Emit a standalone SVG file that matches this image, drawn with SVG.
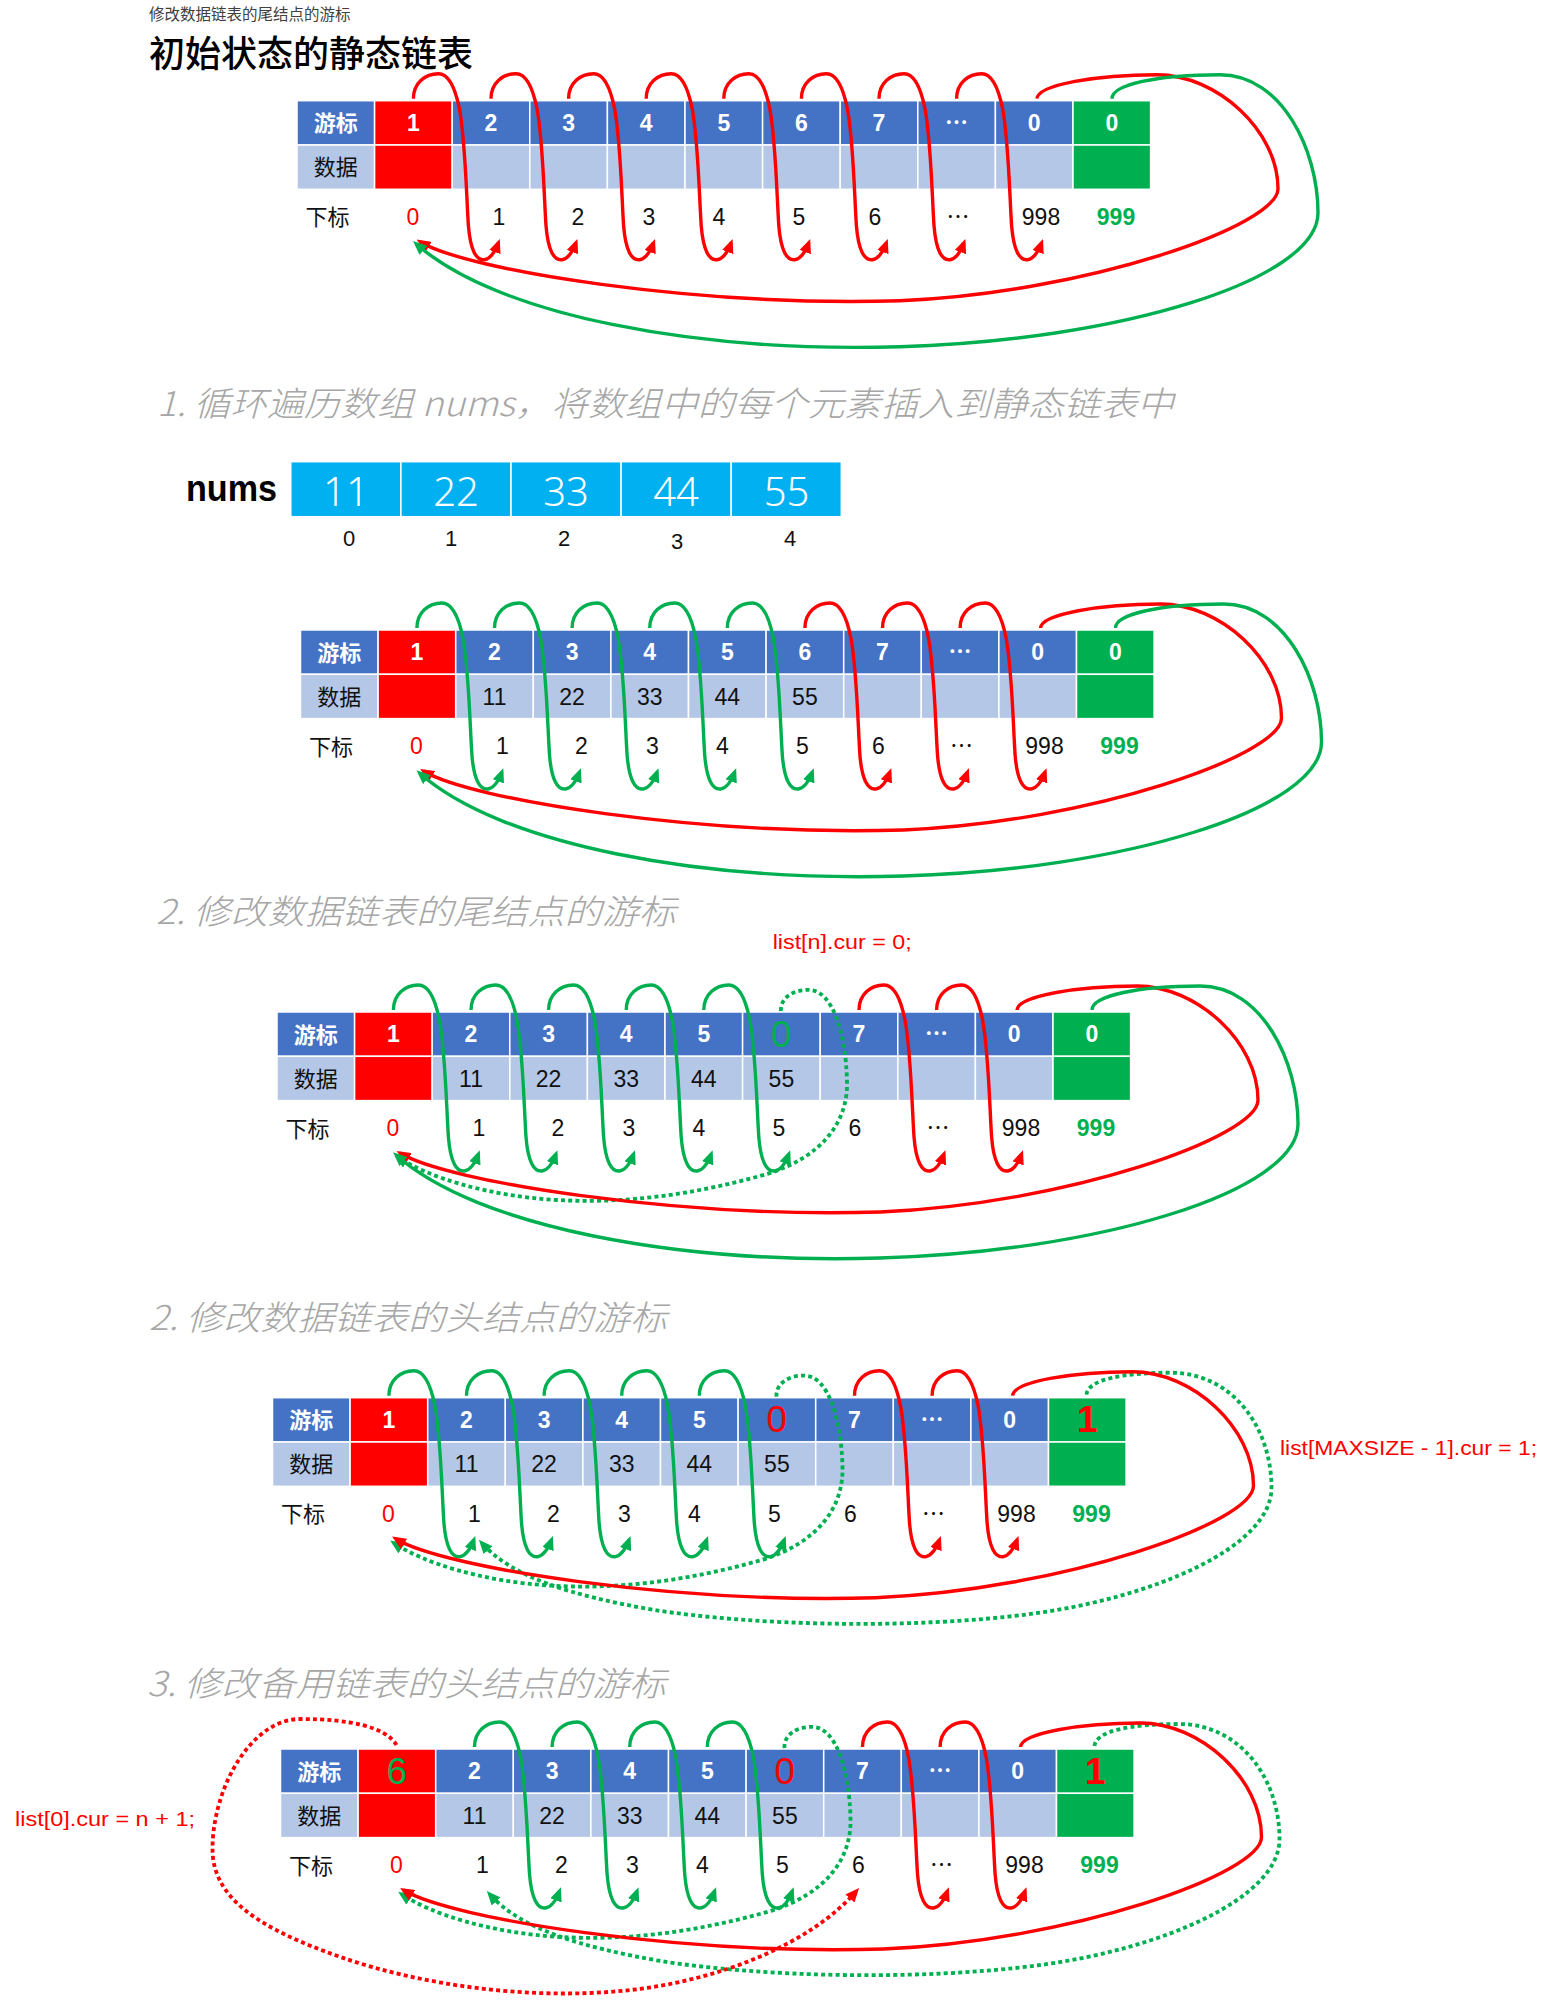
<svg xmlns="http://www.w3.org/2000/svg" xmlns:xlink="http://www.w3.org/1999/xlink" width="1568" height="2000" viewBox="0 0 1568 2000">
<style>
text{font-family:"Liberation Sans","Noto Sans CJK SC",sans-serif}
.h{fill:#4472c4;stroke:#fff;stroke-width:1.5}
.d{fill:#b4c7e7;stroke:#fff;stroke-width:1.5}
.rd{fill:#ff0000;stroke:#fff;stroke-width:1.5}
.gn{fill:#00b050;stroke:#fff;stroke-width:1.5}
.c{font-size:23px;font-weight:bold;fill:#fff;text-anchor:middle}
.v{font-size:23px;fill:#111;text-anchor:middle}
.i{font-size:23px;fill:#111;text-anchor:middle}
.ir{fill:#ff0000}
.ig{fill:#00b050;font-weight:bold}
.L{font-family:"Noto Sans CJK SC",sans-serif;font-size:22px;text-anchor:middle}
.Lw{fill:#fff;font-weight:bold}
.Lk{fill:#111}
.el{font-family:"Noto Sans CJK SC",sans-serif}
.big{font-size:37px;text-anchor:middle}
.bg{fill:#00b050}
.br{fill:#ff0000}
.sec{font-family:"Noto Sans CJK SC",sans-serif;font-style:italic;font-weight:300;font-size:34px;fill:#a6a6a6}
.code{font-family:"Liberation Sans",sans-serif;font-size:21px;fill:#ff0000}
.nc{fill:#00b0f0;stroke:#fff;stroke-width:1.5}
.nv{font-family:"Noto Sans","Liberation Sans",sans-serif;font-weight:300;font-size:40px;fill:#fff;text-anchor:middle}
.ni{font-size:22px;fill:#111;text-anchor:middle}
.sr{fill:none;stroke:#ff0000;stroke-width:3.4}
.sg{fill:none;stroke:#00b050;stroke-width:3.4}
.dg{fill:none;stroke:#00b050;stroke-width:3.8;stroke-dasharray:4 3.2}
.dr{fill:none;stroke:#ff0000;stroke-width:3.8;stroke-dasharray:4 3.2}
</style>
<defs>
<marker id="ahR" viewBox="0 0 14 12" refX="10" refY="6" markerWidth="14" markerHeight="12" markerUnits="userSpaceOnUse" orient="auto"><path d="M0,0 L14,6 L0,12 z" fill="#ff0000"/></marker>
<marker id="ahG" viewBox="0 0 14 12" refX="10" refY="6" markerWidth="14" markerHeight="12" markerUnits="userSpaceOnUse" orient="auto"><path d="M0,0 L14,6 L0,12 z" fill="#00b050"/></marker>
<path id="loopR" class="sr" marker-end="url(#ahR)" d="M0,-2 C0,-18 12,-27 25,-27 C36,-27 42,-12 46,8 C52,40 53,95 55,125 C57,150 63,160 71,159 C78,158 82,150 85,142"/>
<path id="loopG" class="sg" marker-end="url(#ahG)" d="M0,-2 C0,-18 12,-27 25,-27 C36,-27 42,-12 46,8 C52,40 53,95 55,125 C57,150 63,160 71,159 C78,158 82,150 85,142"/>
<path id="longR" class="sr" marker-end="url(#ahR)" d="M740,-2 C741,-16 800,-26 860,-26 C920,-26 981,30 981,88 C981,125 790,192 603,200 C400,206 170,170 123,141"/>
<path id="longG" class="sg" marker-end="url(#ahG)" d="M815,-2 C815,-16 860,-26 923,-26 C985,-26 1021,50 1021,112 C1021,180 820,240 603,246 C400,252 200,215 119,143"/>
<path id="dotTail" class="dg" marker-end="url(#ahG)" d="M504,-1 C503,-15 518,-23 533,-22 C555,-21 569,20 570,70 C571,110 545,145 490,162 C420,182 350,192 280,188 C210,184 150,165 121,145"/>
<path id="dotHead" class="dg" marker-end="url(#ahG)" d="M814,-3 C815,-18 850,-25 898,-25 C960,-25 999,30 999,90 C999,150 880,200 760,216 C640,232 480,228 380,212 C300,198 240,180 209,145"/>
</defs>

<rect width="1568" height="2000" fill="#fff"/>

<g id="titles">
<text x="149" y="20" font-family="Noto Sans CJK SC, sans-serif" font-size="15.5" fill="#404040">修改数据链表的尾结点的游标</text>
<text x="149" y="67" font-family="Noto Sans CJK SC, sans-serif" font-size="36" font-weight="500" fill="#000">初始状态的静态链表</text>
<text class="sec" x="157" y="416" textLength="1017" lengthAdjust="spacingAndGlyphs">1. 循环遍历数组 nums，将数组中的每个元素插入到静态链表中</text>
<text class="sec" x="156" y="924" textLength="520" lengthAdjust="spacingAndGlyphs">2. 修改数据链表的尾结点的游标</text>
<text class="sec" x="149" y="1330" textLength="518" lengthAdjust="spacingAndGlyphs">2. 修改数据链表的头结点的游标</text>
<text class="sec" x="147" y="1696" textLength="519" lengthAdjust="spacingAndGlyphs">3. 修改备用链表的头结点的游标</text>
<text class="code" x="772.7" y="949" textLength="139" lengthAdjust="spacingAndGlyphs">list[n].cur = 0;</text>
<text class="code" x="1280" y="1455" textLength="257" lengthAdjust="spacingAndGlyphs">list[MAXSIZE - 1].cur = 1;</text>
<text class="code" x="15" y="1826" textLength="180" lengthAdjust="spacingAndGlyphs">list[0].cur = n + 1;</text>
</g>

<g id="nums">
<text x="186" y="501" font-size="36" font-weight="bold" fill="#000" textLength="91" lengthAdjust="spacingAndGlyphs">nums</text>
<g id="nums-0"><rect class="nc" x="290.8" y="461.7" width="110.1" height="55"/><text class="nv" x="345.9" y="506">11</text><text class="ni" x="349" y="546">0</text></g>
<g id="nums-1"><rect class="nc" x="400.9" y="461.7" width="110.1" height="55"/><text class="nv" x="456" y="506">22</text><text class="ni" x="451" y="546">1</text></g>
<g id="nums-2"><rect class="nc" x="511" y="461.7" width="110.1" height="55"/><text class="nv" x="566" y="506">33</text><text class="ni" x="564" y="546">2</text></g>
<g id="nums-3"><rect class="nc" x="621.1" y="461.7" width="110.1" height="55"/><text class="nv" x="676" y="506">44</text><text class="ni" x="677" y="549">3</text></g>
<g id="nums-4"><rect class="nc" x="731.2" y="461.7" width="110.1" height="55"/><text class="nv" x="786.5" y="506">55</text><text class="ni" x="790" y="546">4</text></g>
</g>

<!-- TABLE 1 -->
<g id="table1" transform="translate(297,100.7)">
<g id="t1-c0"><rect class="h" x="0" y="0" width="77.6" height="44.3"/><rect class="d" x="0" y="44.3" width="77.6" height="44.3"/><text class="L Lw" x="38.8" y="30.5">游标</text><text class="L Lk" x="38.8" y="74.8">数据</text><text class="L Lk" x="30.5" y="124.5">下标</text></g>
<g id="t1-c1"><rect class="rd" x="77.6" y="0" width="77.6" height="44.3"/><rect class="rd" x="77.6" y="44.3" width="77.6" height="44.3"/><text class="c" x="116.4" y="30">1</text><text class="i ir" x="116" y="124">0</text></g>
<g id="t1-c2"><rect class="h" x="155.2" y="0" width="77.6" height="44.3"/><rect class="d" x="155.2" y="44.3" width="77.6" height="44.3"/><text class="c" x="194" y="30">2</text><text class="i" x="202" y="124">1</text></g>
<g id="t1-c3"><rect class="h" x="232.8" y="0" width="77.6" height="44.3"/><rect class="d" x="232.8" y="44.3" width="77.6" height="44.3"/><text class="c" x="271.6" y="30">3</text><text class="i" x="281" y="124">2</text></g>
<g id="t1-c4"><rect class="h" x="310.4" y="0" width="77.6" height="44.3"/><rect class="d" x="310.4" y="44.3" width="77.6" height="44.3"/><text class="c" x="349.2" y="30">4</text><text class="i" x="352" y="124">3</text></g>
<g id="t1-c5"><rect class="h" x="388" y="0" width="77.6" height="44.3"/><rect class="d" x="388" y="44.3" width="77.6" height="44.3"/><text class="c" x="426.8" y="30">5</text><text class="i" x="422" y="124">4</text></g>
<g id="t1-c6"><rect class="h" x="465.6" y="0" width="77.6" height="44.3"/><rect class="d" x="465.6" y="44.3" width="77.6" height="44.3"/><text class="c" x="504.4" y="30">6</text><text class="i" x="502" y="124">5</text></g>
<g id="t1-c7"><rect class="h" x="543.2" y="0" width="77.6" height="44.3"/><rect class="d" x="543.2" y="44.3" width="77.6" height="44.3"/><text class="c" x="582" y="30">7</text><text class="i" x="578" y="124">6</text></g>
<g id="t1-c8"><rect class="h" x="620.8" y="0" width="77.6" height="44.3"/><rect class="d" x="620.8" y="44.3" width="77.6" height="44.3"/><text class="c el" x="659.6" y="30">…</text><text class="i el" x="661" y="124">…</text></g>
<g id="t1-c9"><rect class="h" x="698.4" y="0" width="77.6" height="44.3"/><rect class="d" x="698.4" y="44.3" width="77.6" height="44.3"/><text class="c" x="737.2" y="30">0</text><text class="i" x="744" y="124">998</text></g>
<g id="t1-c10"><rect class="gn" x="776" y="0" width="77.6" height="44.3"/><rect class="gn" x="776" y="44.3" width="77.6" height="44.3"/><text class="c" x="814.8" y="30">0</text><text class="i ig" x="819" y="124">999</text></g>
<g id="t1-connectors">
<use href="#loopR" x="116.4"/><use href="#loopR" x="194"/><use href="#loopR" x="271.6"/><use href="#loopR" x="349.2"/><use href="#loopR" x="426.8"/><use href="#loopR" x="504.4"/><use href="#loopR" x="582"/><use href="#loopR" x="659.6"/>
<use href="#longR"/><use href="#longG"/>
</g>
</g>

<!-- TABLE 2 -->
<g id="table2" transform="translate(300.5,630)">
<g id="t2-c0"><rect class="h" x="0" y="0" width="77.6" height="44.3"/><rect class="d" x="0" y="44.3" width="77.6" height="44.3"/><text class="L Lw" x="38.8" y="30.5">游标</text><text class="L Lk" x="38.8" y="74.8">数据</text><text class="L Lk" x="30.5" y="124.5">下标</text></g>
<g id="t2-c1"><rect class="rd" x="77.6" y="0" width="77.6" height="44.3"/><rect class="rd" x="77.6" y="44.3" width="77.6" height="44.3"/><text class="c" x="116.4" y="30">1</text><text class="i ir" x="116" y="124">0</text></g>
<g id="t2-c2"><rect class="h" x="155.2" y="0" width="77.6" height="44.3"/><rect class="d" x="155.2" y="44.3" width="77.6" height="44.3"/><text class="c" x="194" y="30">2</text><text class="v" x="194" y="74.5">11</text><text class="i" x="202" y="124">1</text></g>
<g id="t2-c3"><rect class="h" x="232.8" y="0" width="77.6" height="44.3"/><rect class="d" x="232.8" y="44.3" width="77.6" height="44.3"/><text class="c" x="271.6" y="30">3</text><text class="v" x="271.6" y="74.5">22</text><text class="i" x="281" y="124">2</text></g>
<g id="t2-c4"><rect class="h" x="310.4" y="0" width="77.6" height="44.3"/><rect class="d" x="310.4" y="44.3" width="77.6" height="44.3"/><text class="c" x="349.2" y="30">4</text><text class="v" x="349.2" y="74.5">33</text><text class="i" x="352" y="124">3</text></g>
<g id="t2-c5"><rect class="h" x="388" y="0" width="77.6" height="44.3"/><rect class="d" x="388" y="44.3" width="77.6" height="44.3"/><text class="c" x="426.8" y="30">5</text><text class="v" x="426.8" y="74.5">44</text><text class="i" x="422" y="124">4</text></g>
<g id="t2-c6"><rect class="h" x="465.6" y="0" width="77.6" height="44.3"/><rect class="d" x="465.6" y="44.3" width="77.6" height="44.3"/><text class="c" x="504.4" y="30">6</text><text class="v" x="504.4" y="74.5">55</text><text class="i" x="502" y="124">5</text></g>
<g id="t2-c7"><rect class="h" x="543.2" y="0" width="77.6" height="44.3"/><rect class="d" x="543.2" y="44.3" width="77.6" height="44.3"/><text class="c" x="582" y="30">7</text><text class="i" x="578" y="124">6</text></g>
<g id="t2-c8"><rect class="h" x="620.8" y="0" width="77.6" height="44.3"/><rect class="d" x="620.8" y="44.3" width="77.6" height="44.3"/><text class="c el" x="659.6" y="30">…</text><text class="i el" x="661" y="124">…</text></g>
<g id="t2-c9"><rect class="h" x="698.4" y="0" width="77.6" height="44.3"/><rect class="d" x="698.4" y="44.3" width="77.6" height="44.3"/><text class="c" x="737.2" y="30">0</text><text class="i" x="744" y="124">998</text></g>
<g id="t2-c10"><rect class="gn" x="776" y="0" width="77.6" height="44.3"/><rect class="gn" x="776" y="44.3" width="77.6" height="44.3"/><text class="c" x="814.8" y="30">0</text><text class="i ig" x="819" y="124">999</text></g>
<g id="t2-connectors">
<use href="#loopG" x="116.4"/><use href="#loopG" x="194"/><use href="#loopG" x="271.6"/><use href="#loopG" x="349.2"/><use href="#loopG" x="426.8"/><use href="#loopR" x="504.4"/><use href="#loopR" x="582"/><use href="#loopR" x="659.6"/>
<use href="#longR"/><use href="#longG"/>
</g>
</g>

<!-- TABLE 3 -->
<g id="table3" transform="translate(277,1012)">
<g id="t3-c0"><rect class="h" x="0" y="0" width="77.6" height="44.3"/><rect class="d" x="0" y="44.3" width="77.6" height="44.3"/><text class="L Lw" x="38.8" y="30.5">游标</text><text class="L Lk" x="38.8" y="74.8">数据</text><text class="L Lk" x="30.5" y="124.5">下标</text></g>
<g id="t3-c1"><rect class="rd" x="77.6" y="0" width="77.6" height="44.3"/><rect class="rd" x="77.6" y="44.3" width="77.6" height="44.3"/><text class="c" x="116.4" y="30">1</text><text class="i ir" x="116" y="124">0</text></g>
<g id="t3-c2"><rect class="h" x="155.2" y="0" width="77.6" height="44.3"/><rect class="d" x="155.2" y="44.3" width="77.6" height="44.3"/><text class="c" x="194" y="30">2</text><text class="v" x="194" y="74.5">11</text><text class="i" x="202" y="124">1</text></g>
<g id="t3-c3"><rect class="h" x="232.8" y="0" width="77.6" height="44.3"/><rect class="d" x="232.8" y="44.3" width="77.6" height="44.3"/><text class="c" x="271.6" y="30">3</text><text class="v" x="271.6" y="74.5">22</text><text class="i" x="281" y="124">2</text></g>
<g id="t3-c4"><rect class="h" x="310.4" y="0" width="77.6" height="44.3"/><rect class="d" x="310.4" y="44.3" width="77.6" height="44.3"/><text class="c" x="349.2" y="30">4</text><text class="v" x="349.2" y="74.5">33</text><text class="i" x="352" y="124">3</text></g>
<g id="t3-c5"><rect class="h" x="388" y="0" width="77.6" height="44.3"/><rect class="d" x="388" y="44.3" width="77.6" height="44.3"/><text class="c" x="426.8" y="30">5</text><text class="v" x="426.8" y="74.5">44</text><text class="i" x="422" y="124">4</text></g>
<g id="t3-c6"><rect class="h" x="465.6" y="0" width="77.6" height="44.3"/><rect class="d" x="465.6" y="44.3" width="77.6" height="44.3"/><text class="big bg" x="504.4" y="34.5">0</text><text class="v" x="504.4" y="74.5">55</text><text class="i" x="502" y="124">5</text></g>
<g id="t3-c7"><rect class="h" x="543.2" y="0" width="77.6" height="44.3"/><rect class="d" x="543.2" y="44.3" width="77.6" height="44.3"/><text class="c" x="582" y="30">7</text><text class="i" x="578" y="124">6</text></g>
<g id="t3-c8"><rect class="h" x="620.8" y="0" width="77.6" height="44.3"/><rect class="d" x="620.8" y="44.3" width="77.6" height="44.3"/><text class="c el" x="659.6" y="30">…</text><text class="i el" x="661" y="124">…</text></g>
<g id="t3-c9"><rect class="h" x="698.4" y="0" width="77.6" height="44.3"/><rect class="d" x="698.4" y="44.3" width="77.6" height="44.3"/><text class="c" x="737.2" y="30">0</text><text class="i" x="744" y="124">998</text></g>
<g id="t3-c10"><rect class="gn" x="776" y="0" width="77.6" height="44.3"/><rect class="gn" x="776" y="44.3" width="77.6" height="44.3"/><text class="c" x="814.8" y="30">0</text><text class="i ig" x="819" y="124">999</text></g>
<g id="t3-connectors">
<use href="#loopG" x="116.4"/><use href="#loopG" x="194"/><use href="#loopG" x="271.6"/><use href="#loopG" x="349.2"/><use href="#loopG" x="426.8"/><use href="#loopR" x="582"/><use href="#loopR" x="659.6"/>
<use href="#dotTail"/><use href="#longR"/><use href="#longG"/>
</g>
</g>

<!-- TABLE 4 -->
<g id="table4" transform="translate(272.5,1397.7)">
<g id="t4-c0"><rect class="h" x="0" y="0" width="77.6" height="44.3"/><rect class="d" x="0" y="44.3" width="77.6" height="44.3"/><text class="L Lw" x="38.8" y="30.5">游标</text><text class="L Lk" x="38.8" y="74.8">数据</text><text class="L Lk" x="30.5" y="124.5">下标</text></g>
<g id="t4-c1"><rect class="rd" x="77.6" y="0" width="77.6" height="44.3"/><rect class="rd" x="77.6" y="44.3" width="77.6" height="44.3"/><text class="c" x="116.4" y="30">1</text><text class="i ir" x="116" y="124">0</text></g>
<g id="t4-c2"><rect class="h" x="155.2" y="0" width="77.6" height="44.3"/><rect class="d" x="155.2" y="44.3" width="77.6" height="44.3"/><text class="c" x="194" y="30">2</text><text class="v" x="194" y="74.5">11</text><text class="i" x="202" y="124">1</text></g>
<g id="t4-c3"><rect class="h" x="232.8" y="0" width="77.6" height="44.3"/><rect class="d" x="232.8" y="44.3" width="77.6" height="44.3"/><text class="c" x="271.6" y="30">3</text><text class="v" x="271.6" y="74.5">22</text><text class="i" x="281" y="124">2</text></g>
<g id="t4-c4"><rect class="h" x="310.4" y="0" width="77.6" height="44.3"/><rect class="d" x="310.4" y="44.3" width="77.6" height="44.3"/><text class="c" x="349.2" y="30">4</text><text class="v" x="349.2" y="74.5">33</text><text class="i" x="352" y="124">3</text></g>
<g id="t4-c5"><rect class="h" x="388" y="0" width="77.6" height="44.3"/><rect class="d" x="388" y="44.3" width="77.6" height="44.3"/><text class="c" x="426.8" y="30">5</text><text class="v" x="426.8" y="74.5">44</text><text class="i" x="422" y="124">4</text></g>
<g id="t4-c6"><rect class="h" x="465.6" y="0" width="77.6" height="44.3"/><rect class="d" x="465.6" y="44.3" width="77.6" height="44.3"/><text class="big br" x="504.4" y="34.5">0</text><text class="v" x="504.4" y="74.5">55</text><text class="i" x="502" y="124">5</text></g>
<g id="t4-c7"><rect class="h" x="543.2" y="0" width="77.6" height="44.3"/><rect class="d" x="543.2" y="44.3" width="77.6" height="44.3"/><text class="c" x="582" y="30">7</text><text class="i" x="578" y="124">6</text></g>
<g id="t4-c8"><rect class="h" x="620.8" y="0" width="77.6" height="44.3"/><rect class="d" x="620.8" y="44.3" width="77.6" height="44.3"/><text class="c el" x="659.6" y="30">…</text><text class="i el" x="661" y="124">…</text></g>
<g id="t4-c9"><rect class="h" x="698.4" y="0" width="77.6" height="44.3"/><rect class="d" x="698.4" y="44.3" width="77.6" height="44.3"/><text class="c" x="737.2" y="30">0</text><text class="i" x="744" y="124">998</text></g>
<g id="t4-c10"><rect class="gn" x="776" y="0" width="77.6" height="44.3"/><rect class="gn" x="776" y="44.3" width="77.6" height="44.3"/><text class="big br" x="814.8" y="34.5" font-weight="bold">1</text><text class="i ig" x="819" y="124">999</text></g>
<g id="t4-connectors">
<use href="#loopG" x="116.4"/><use href="#loopG" x="194"/><use href="#loopG" x="271.6"/><use href="#loopG" x="349.2"/><use href="#loopG" x="426.8"/><use href="#loopR" x="582"/><use href="#loopR" x="659.6"/>
<use href="#dotTail"/><use href="#dotHead"/><use href="#longR"/>
</g>
</g>

<!-- TABLE 5 -->
<g id="table5" transform="translate(280.5,1749)">
<g id="t5-c0"><rect class="h" x="0" y="0" width="77.6" height="44.3"/><rect class="d" x="0" y="44.3" width="77.6" height="44.3"/><text class="L Lw" x="38.8" y="30.5">游标</text><text class="L Lk" x="38.8" y="74.8">数据</text><text class="L Lk" x="30.5" y="124.5">下标</text></g>
<g id="t5-c1"><rect class="rd" x="77.6" y="0" width="77.6" height="44.3"/><rect class="rd" x="77.6" y="44.3" width="77.6" height="44.3"/><text class="big bg" x="116.4" y="34.5">6</text><text class="i ir" x="116" y="124">0</text></g>
<g id="t5-c2"><rect class="h" x="155.2" y="0" width="77.6" height="44.3"/><rect class="d" x="155.2" y="44.3" width="77.6" height="44.3"/><text class="c" x="194" y="30">2</text><text class="v" x="194" y="74.5">11</text><text class="i" x="202" y="124">1</text></g>
<g id="t5-c3"><rect class="h" x="232.8" y="0" width="77.6" height="44.3"/><rect class="d" x="232.8" y="44.3" width="77.6" height="44.3"/><text class="c" x="271.6" y="30">3</text><text class="v" x="271.6" y="74.5">22</text><text class="i" x="281" y="124">2</text></g>
<g id="t5-c4"><rect class="h" x="310.4" y="0" width="77.6" height="44.3"/><rect class="d" x="310.4" y="44.3" width="77.6" height="44.3"/><text class="c" x="349.2" y="30">4</text><text class="v" x="349.2" y="74.5">33</text><text class="i" x="352" y="124">3</text></g>
<g id="t5-c5"><rect class="h" x="388" y="0" width="77.6" height="44.3"/><rect class="d" x="388" y="44.3" width="77.6" height="44.3"/><text class="c" x="426.8" y="30">5</text><text class="v" x="426.8" y="74.5">44</text><text class="i" x="422" y="124">4</text></g>
<g id="t5-c6"><rect class="h" x="465.6" y="0" width="77.6" height="44.3"/><rect class="d" x="465.6" y="44.3" width="77.6" height="44.3"/><text class="big br" x="504.4" y="34.5">0</text><text class="v" x="504.4" y="74.5">55</text><text class="i" x="502" y="124">5</text></g>
<g id="t5-c7"><rect class="h" x="543.2" y="0" width="77.6" height="44.3"/><rect class="d" x="543.2" y="44.3" width="77.6" height="44.3"/><text class="c" x="582" y="30">7</text><text class="i" x="578" y="124">6</text></g>
<g id="t5-c8"><rect class="h" x="620.8" y="0" width="77.6" height="44.3"/><rect class="d" x="620.8" y="44.3" width="77.6" height="44.3"/><text class="c el" x="659.6" y="30">…</text><text class="i el" x="661" y="124">…</text></g>
<g id="t5-c9"><rect class="h" x="698.4" y="0" width="77.6" height="44.3"/><rect class="d" x="698.4" y="44.3" width="77.6" height="44.3"/><text class="c" x="737.2" y="30">0</text><text class="i" x="744" y="124">998</text></g>
<g id="t5-c10"><rect class="gn" x="776" y="0" width="77.6" height="44.3"/><rect class="gn" x="776" y="44.3" width="77.6" height="44.3"/><text class="big br" x="814.8" y="34.5" font-weight="bold">1</text><text class="i ig" x="819" y="124">999</text></g>
<g id="t5-connectors">
<use href="#loopG" x="194"/><use href="#loopG" x="271.6"/><use href="#loopG" x="349.2"/><use href="#loopG" x="426.8"/><use href="#loopR" x="582"/><use href="#loopR" x="659.6"/>
<use href="#dotTail"/><use href="#dotHead"/><use href="#longR"/>
<path class="dr" marker-end="url(#ahR)" d="M116,-4 C105,-22 70,-30 20,-30 C-30,-30 -68,40 -68,100 C-68,150 -20,180 60,208 C140,236 250,252 350,241 C440,231 530,195 576,142"/>
</g>
</g>
</svg>
